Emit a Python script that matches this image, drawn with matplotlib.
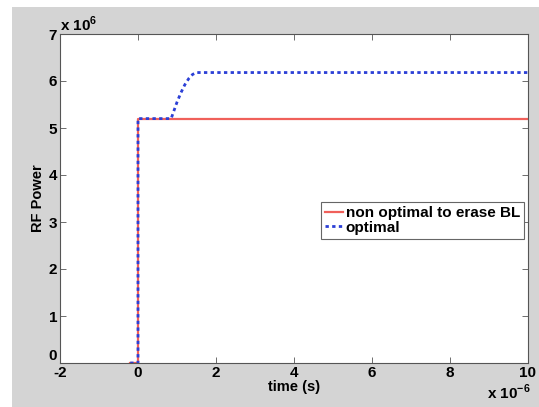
import numpy as np
import matplotlib
matplotlib.use("Agg")
import matplotlib.pyplot as plt
from matplotlib.patches import Rectangle

plt.rcParams['font.family'] = ['Liberation Sans', 'DejaVu Sans']
plt.rcParams['font.weight'] = 'bold'
plt.rcParams['mathtext.fontset'] = 'custom'
plt.rcParams['mathtext.rm'] = 'Liberation Sans:bold'
plt.rcParams['mathtext.bf'] = 'Liberation Sans:bold'

# RF power step responses (time in microseconds, power in MW)
t_nonopt = [-0.2, 0.0, 0.0, 10.0]
p_nonopt = [0.0, 0.0, 5.2, 5.2]

t_opt = [-0.2, 0.0, 0.0, 0.85, 1.0, 1.1, 1.2, 1.3, 1.4, 1.5, 10.0]
p_opt = [0.0, 0.0, 5.2, 5.2, 5.55, 5.75, 5.92, 6.05, 6.14, 6.18, 6.18]

x_ticks = [-2, 0, 2, 4, 6, 8, 10]
y_ticks = [0, 1, 2, 3, 4, 5, 6, 7]

scale_t = 1e-6
scale_p = 1e6

fig = plt.figure(figsize=(5.39, 4.07), dpi=100, facecolor='white')
# grey figure panel, leaving a thin white margin on the left and top
fig.patches.append(Rectangle((12 / 539, 0), 1, 1 - 7 / 407, transform=fig.transFigure,
                             facecolor='#d4d4d4', edgecolor='none', zorder=-10))

ax = fig.add_axes([60 / 539, 44 / 407, 468 / 539, 329 / 407])
ax.plot(np.array(t_nonopt) * scale_t, np.array(p_nonopt) * scale_p,
        color='#f0605a', lw=1.6, label='non optimal to erase BL')
ax.plot(np.array(t_opt) * scale_t, np.array(p_opt) * scale_p,
        color='#2b3fd6', lw=2.0, ls=(0, (1.2, 1.2)), label='optimal')

ax.set_xlim(-2 * scale_t, 10 * scale_t)
ax.set_ylim(0, 7 * scale_p)
ax.set_xticks([v * scale_t for v in x_ticks])
ax.set_xticklabels([str(v) for v in x_ticks])
ax.set_yticks([v * scale_p for v in y_ticks])
ax.set_yticklabels([str(v) for v in y_ticks])

for s in ax.spines.values():
    s.set_color('#555555')
    s.set_linewidth(0.8)
ax.tick_params(direction='in', length=4, width=0.6, color='#555555',
               top=True, right=True, labelsize=11, pad=2)
for lab in ax.get_xticklabels() + ax.get_yticklabels():
    lab.set_fontweight('bold')
# lift the bottom y label a little so it clears the first x label
ax.get_yticklabels()[0].set_va('bottom')

ax.set_xlabel('time (s)', fontsize=10.5, fontweight='bold', labelpad=0)
ax.set_ylabel('RF Power', fontsize=10.5, fontweight='bold', labelpad=3)

# exponent labels in the MATLAB style
ax.text(0.0, 1.0, r'x 10$^{6}$', transform=ax.transAxes, fontsize=11,
        fontweight='bold', ha='left', va='bottom')
ax.text(1.005, -0.06, r'x 10$^{-6}$', transform=ax.transAxes, fontsize=11,
        fontweight='bold', ha='right', va='top')

leg = ax.legend(loc='upper right', bbox_to_anchor=(0.991, 0.489), borderaxespad=0,
                fontsize=11, handlelength=1.2, handletextpad=0.15, borderpad=0.25,
                labelspacing=0.05, fancybox=False, framealpha=1)
leg.get_frame().set_edgecolor('#666666')
leg.get_frame().set_linewidth(0.8)
for txt in leg.get_texts():
    txt.set_fontweight('bold')

fig.savefig('out.png', dpi=100, facecolor=fig.get_facecolor())
